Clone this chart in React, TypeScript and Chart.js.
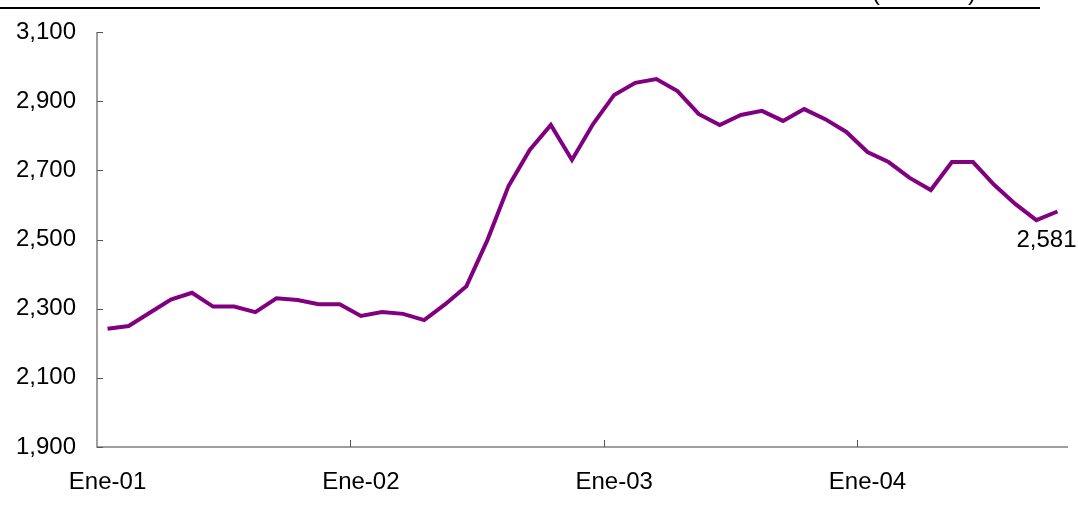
import React, { useEffect, useRef } from "react";
import { Chart, registerables } from "chart.js";

Chart.register(...registerables);

const years = ["01", "02", "03", "04"];
const months = ["Ene", "Feb", "Mar", "Abr", "May", "Jun", "Jul", "Ago", "Sep", "Oct", "Nov", "Dic"];
const categories: string[] = [];
years.forEach((y) => months.forEach((m) => categories.push(`${m}-${y}`)));
const labels = categories.slice(0, 46);

const values = [
  2242, 2250, 2288, 2326, 2346, 2306, 2306, 2290, 2330, 2325, 2313, 2313,
  2279, 2290, 2285, 2267, 2313, 2365, 2499, 2655, 2759, 2831, 2730, 2834,
  2918, 2953, 2964, 2929, 2863, 2831, 2860, 2872, 2843, 2877, 2848, 2811,
  2753, 2724, 2678, 2643, 2724, 2724, 2658, 2603, 2556, 2581,
];

const yTicks = [1900, 2100, 2300, 2500, 2700, 2900, 3100];
const lastLabel = "2,581";
const FONT = "'Liberation Sans', Arial, sans-serif";

const fmt = (v: number) => v.toLocaleString("en-US");

const decorPlugin = {
  id: "decor",
  afterDraw(chart: any) {
    const { ctx, chartArea } = chart;
    const xs = chart.scales.x;
    const ys = chart.scales.y;
    ctx.save();
    // axes
    ctx.strokeStyle = "#808080";
    ctx.lineWidth = 1.5;
    ctx.beginPath();
    ctx.moveTo(chartArea.left, chartArea.top);
    ctx.lineTo(chartArea.left, chartArea.bottom);
    ctx.lineTo(chartArea.right, chartArea.bottom);
    ctx.stroke();
    // y tick marks (inward)
    ctx.lineWidth = 1;
    ctx.strokeStyle = "#555";
    yTicks.forEach((v) => {
      const y = Math.round(ys.getPixelForValue(v)) + 0.5;
      ctx.beginPath();
      ctx.moveTo(chartArea.left, y);
      ctx.lineTo(chartArea.left + 6, y);
      ctx.stroke();
    });
    // x tick marks every 12 categories (between categories)
    for (let i = 12; i < labels.length; i += 12) {
      const x = Math.round((xs.getPixelForValue(i - 1) + xs.getPixelForValue(i)) / 2) + 0.5;
      ctx.beginPath();
      ctx.moveTo(x, chartArea.bottom);
      ctx.lineTo(x, chartArea.bottom - 7);
      ctx.stroke();
    }
    // last value label
    const meta = chart.getDatasetMeta(0);
    const pt = meta.data[meta.data.length - 1];
    ctx.fillStyle = "#000";
    ctx.font = `24px ${FONT}`;
    ctx.textAlign = "center";
    ctx.textBaseline = "middle";
    ctx.fillText(lastLabel, pt.x - 11, pt.y + 29);
    // top rule and clipped title parentheses
    ctx.strokeStyle = "#000";
    ctx.lineWidth = 2;
    ctx.beginPath();
    ctx.moveTo(0, 8);
    ctx.lineTo(1040, 8);
    ctx.stroke();
    ctx.textBaseline = "alphabetic";
    ctx.fillText("(", 876, 0);
    ctx.fillText(")", 972, 0);
    ctx.restore();
  },
};

export default function App() {
  const ref = useRef<HTMLCanvasElement>(null);
  useEffect(() => {
    const chart = new Chart(ref.current!, {
      type: "line",
      data: {
        labels,
        datasets: [
          {
            data: values,
            borderColor: "#800080",
            borderWidth: 4,
            pointRadius: 0,
            tension: 0,
            fill: false,
          },
        ],
      },
      options: {
        animation: false,
        responsive: false,
        maintainAspectRatio: false,
        layout: { padding: { top: 32, right: 10, left: 0, bottom: 0 } },
        plugins: { legend: { display: false }, tooltip: { enabled: false } },
        scales: {
          x: {
            type: "category",
            offset: true,
            border: { display: false },
            grid: { display: false, offset: true },
            ticks: {
              autoSkip: false,
              maxRotation: 0,
              color: "#000",
              font: { family: FONT, size: 24 },
              padding: 13,
              callback: (_v: any, i: number) => (i % 12 === 0 ? labels[i] : ""),
            },
            afterFit: (s: any) => {
              s.height = 61;
            },
          },
          y: {
            min: 1900,
            max: 3100,
            border: { display: false },
            grid: { display: false },
            ticks: {
              stepSize: 200,
              color: "#000",
              font: { family: FONT, size: 24 },
              padding: 13,
              callback: (v: any) => fmt(Number(v)),
            },
            afterFit: (s: any) => {
              s.width = 97;
            },
          },
        },
      },
      plugins: [decorPlugin],
    });
    return () => chart.destroy();
  }, []);
  return (
    <div style={{ position: "fixed", left: 0, top: 0, width: 1078, height: 508, background: "#fff" }}>
      <canvas ref={ref} width={1078} height={508} style={{ width: 1078, height: 508 }} />
    </div>
  );
}
